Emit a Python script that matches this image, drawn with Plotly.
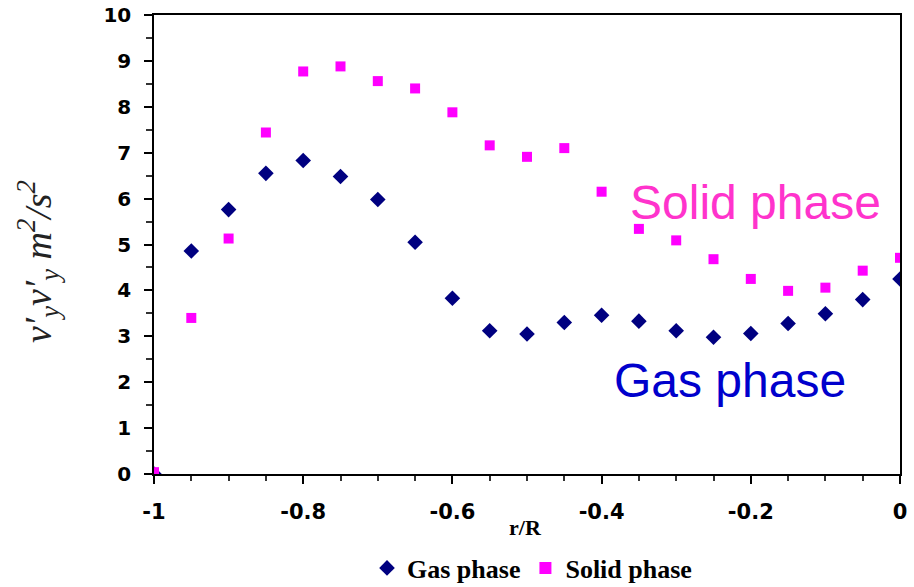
import plotly.graph_objects as go

r_over_R = [-1.0, -0.95, -0.9, -0.85, -0.8, -0.75, -0.7, -0.65, -0.6, -0.55, -0.5,
            -0.45, -0.4, -0.35, -0.3, -0.25, -0.2, -0.15, -0.1, -0.05, 0.0]
gas_phase = [0.0, 4.86, 5.76, 6.55, 6.83, 6.48, 5.98, 5.05, 3.83, 3.12, 3.05,
             3.30, 3.46, 3.33, 3.12, 2.98, 3.06, 3.28, 3.49, 3.80, 4.25]
solid_phase = [0.04, 3.40, 5.13, 7.44, 8.77, 8.88, 8.56, 8.40, 7.88, 7.16, 6.91,
               7.10, 6.15, 5.34, 5.09, 4.68, 4.25, 3.99, 4.06, 4.43, 4.71]
x_ticks = [-1, -0.8, -0.6, -0.4, -0.2, 0]
x_tick_labels = ["-1", "-0.8", "-0.6", "-0.4", "-0.2", "0"]
y_ticks = list(range(0, 11))

fig = go.Figure()
fig.add_trace(go.Scatter(x=r_over_R, y=gas_phase, mode="markers", name="Gas phase",
                         marker=dict(symbol="diamond", size=12, color="#000080")))
fig.add_trace(go.Scatter(x=r_over_R, y=solid_phase, mode="markers", name="Solid phase",
                         marker=dict(symbol="square", size=10, color="#ff00ff")))

L, R, T, B = 154, 900, 15, 474
PW, PH = R - L, B - T

def px(x):
    return (x - L) / PW

def py(y):
    return (B - y) / PH

fig.update_layout(
    width=914, height=587,
    margin=dict(l=L, r=914 - R, t=T, b=587 - B, autoexpand=False),
    paper_bgcolor="white", plot_bgcolor="white",
    showlegend=True,
    legend=dict(orientation="h", x=px(532), xanchor="center", y=py(568), yanchor="middle",
                font=dict(family="Liberation Serif, Times New Roman", size=26, color="black", weight="bold"),
                itemsizing="constant", itemwidth=30, tracegroupgap=0),
    xaxis=dict(range=[-1, 0], tickvals=x_ticks, ticktext=x_tick_labels,
               showgrid=False, zeroline=False, showline=True, linecolor="black", linewidth=1.5,
               mirror=True, ticks="outside", ticklen=8, tickcolor="black", tickwidth=1.5,
               tickfont=dict(family="DejaVu Sans", size=21, color="black", weight="bold"),
               ticklabelstandoff=10,
               minor=dict(dtick=0.05, ticks="outside", ticklen=5, tickcolor="#333", showgrid=False)),
    yaxis=dict(range=[0, 10], tickvals=y_ticks,
               showgrid=False, zeroline=False, showline=True, linecolor="black", linewidth=1.5,
               mirror=True, ticks="outside", ticklen=8, tickcolor="black", tickwidth=1.5,
               tickfont=dict(family="DejaVu Sans", size=20, color="black", weight="bold"),
               ticklabelstandoff=9,
               minor=dict(dtick=0.5, ticks="outside", ticklen=6, tickcolor="#333", showgrid=False)),
)

def note(text, x, y, font, angle=0):
    fig.add_annotation(text=text, xref="paper", yref="paper", x=px(x), y=py(y),
                       xanchor="center", yanchor="middle", textangle=angle,
                       showarrow=False, font=font)

note("r/R", 525, 527, dict(family="Liberation Serif, Times New Roman", size=22,
                           color="black", weight="bold"))
note("<i>v′<sub>y</sub>v′<sub>y</sub> m<sup>2</sup>/s<sup>2</sup></i>", 38, 262,
     dict(family="Liberation Serif, Times New Roman", size=38, color="#222"), angle=-90)
note("Solid phase", 755, 203, dict(family="Liberation Sans, Arial", size=48, color="#ff33cc"))
note("Gas phase", 730, 380, dict(family="Liberation Sans, Arial", size=48, color="#0000cc"))

fig.write_html("out.html")
